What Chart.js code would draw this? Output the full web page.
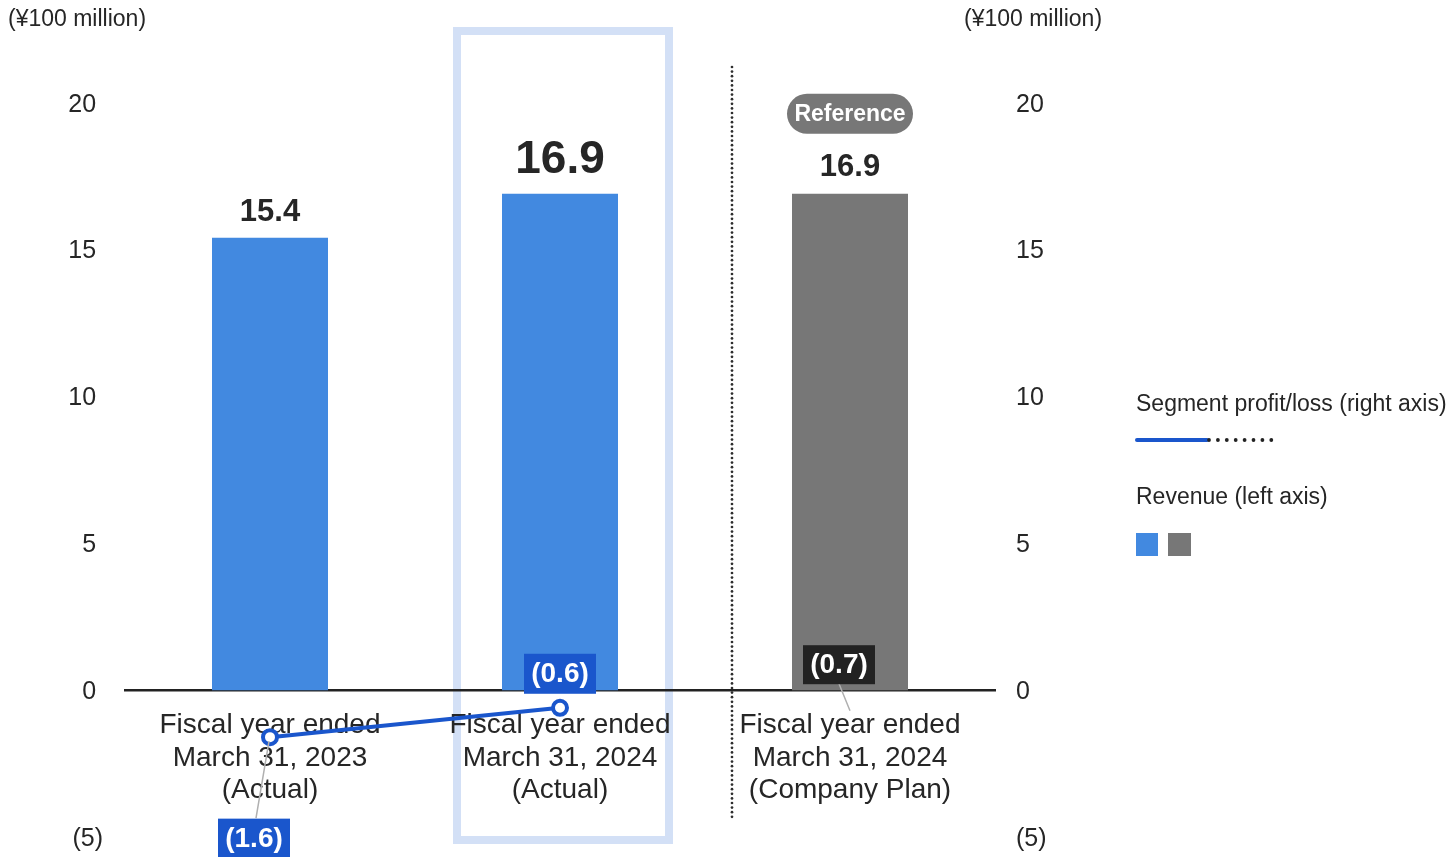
<!DOCTYPE html>
<html lang="en">
<head>
    <meta charset="UTF-8">
    <title>Revenue and Segment Profit/Loss</title>
    <script src="https://cdn.jsdelivr.net/npm/chart.js"></script>
    <style>
        html, body {
            margin: 0;
            padding: 0;
            background: #ffffff;
        }
        #wrap {
            position: relative;
            width: 1452px;
            height: 857px;
        }
    </style>
</head>
<body>

<div id="wrap">
    <canvas id="segmentChart" width="1452" height="857"></canvas>
</div>

<script>
    // Chart values
    const categories = [
        ['Fiscal year ended', 'March 31, 2023', '(Actual)'],
        ['Fiscal year ended', 'March 31, 2024', '(Actual)'],
        ['Fiscal year ended', 'March 31, 2024', '(Company Plan)']
    ];
    const revenue = [15.4, 16.9, 16.9];
    const segmentProfit = [-1.6, -0.6, -0.7];
    const axisTicks = [-5, 0, 5, 10, 15, 20];

    const FONT = "'Liberation Sans', Arial, sans-serif";
    const TEXT = '#262626';
    const BAR_BLUE = '#4289e0';
    const BAR_GRAY = '#777777';
    const LINE_BLUE = '#1a56cc';

    // accounting style: negatives in parentheses, positives padded for the ")"
    function fmtTick(v) {
        return v < 0 ? '(' + Math.abs(v) + ')' : v + '\u2008';
    }
    function fmtTickRight(v) {
        return v < 0 ? '(' + Math.abs(v) + ')' : String(v);
    }
    function fmtProfit(v) {
        return v < 0 ? '(' + Math.abs(v).toFixed(1) + ')' : v.toFixed(1);
    }

    function setTicks(scale) {
        scale.ticks = axisTicks.map(v => ({ value: v }));
    }

    // keep the plot area fixed by the layout padding only
    function noScalePadding(s) {
        s.paddingTop = 0;
        s.paddingBottom = 0;
        s.paddingLeft = 0;
        s.paddingRight = 0;
    }

    // background decorations: highlight frame and dotted divider
    const backdrop = {
        id: 'backdrop',
        beforeDraw(chart) {
            const ctx = chart.ctx;
            const x = chart.scales.x;
            const cx = x.getPixelForValue(1);
            ctx.save();
            ctx.strokeStyle = '#d3e0f6';
            ctx.lineWidth = 8;
            ctx.strokeRect(cx - 103, 31, 212, 809);

            const dx = (x.getPixelForValue(1) + x.getPixelForValue(2)) / 2 + 27;
            ctx.fillStyle = '#2e2e2e';
            for (let y = 67; y <= 820; y += 4.6) {
                ctx.beginPath();
                ctx.arc(dx, y, 1.35, 0, Math.PI * 2);
                ctx.fill();
            }
            ctx.restore();
        }
    };

    function textBox(ctx, text, cx, cy, bg, font, w, h) {
        ctx.fillStyle = bg;
        ctx.fillRect(cx - w / 2, cy - h / 2, w, h);
        ctx.font = font;
        ctx.fillStyle = '#ffffff';
        ctx.textAlign = 'center';
        ctx.textBaseline = 'middle';
        ctx.fillText(text, cx, cy + 1);
    }

    // value labels, profit boxes, leaders, unit captions and legend
    const annotations = {
        id: 'annotations',
        afterDatasetsDraw(chart) {
            const ctx = chart.ctx;
            const bars = chart.getDatasetMeta(0).data;
            const pts = chart.getDatasetMeta(1).data;
            ctx.save();

            // revenue values above bars
            const valueFonts = ['bold 31px ' + FONT, 'bold 46px ' + FONT, 'bold 31px ' + FONT];
            const valueGaps = [25, 33, 26];
            ctx.fillStyle = TEXT;
            ctx.textAlign = 'center';
            ctx.textBaseline = 'middle';
            bars.forEach((b, i) => {
                ctx.font = valueFonts[i];
                ctx.fillText(revenue[i].toFixed(1), b.x, b.y - valueGaps[i]);
            });

            // "Reference" pill over the plan bar
            const pb = bars[2];
            ctx.fillStyle = BAR_GRAY;
            ctx.beginPath();
            ctx.roundRect(pb.x - 63, pb.y - 100, 126, 40, 20);
            ctx.fill();
            ctx.fillStyle = '#ffffff';
            ctx.font = 'bold 23px ' + FONT;
            ctx.fillText('Reference', pb.x, pb.y - 79);

            // leader lines
            ctx.strokeStyle = '#b0b0b0';
            ctx.lineWidth = 1.5;
            ctx.beginPath();
            ctx.moveTo(pts[0].x - 14, pts[0].y + 81);
            ctx.lineTo(pts[0].x - 1, pts[0].y + 4);
            ctx.moveTo(pts[2].x - 11, pts[2].y - 27);
            ctx.lineTo(pts[2].x, pts[2].y);
            ctx.stroke();

            // profit/loss boxes
            const bf = 'bold 28px ' + FONT;
            textBox(ctx, fmtProfit(segmentProfit[0]), pts[0].x - 16, pts[0].y + 101, LINE_BLUE, bf, 72, 39);
            textBox(ctx, fmtProfit(segmentProfit[1]), pts[1].x, pts[1].y - 34, LINE_BLUE, bf, 72, 40);
            textBox(ctx, fmtProfit(segmentProfit[2]), pts[2].x - 11, pts[2].y - 46, '#222222', bf, 72, 39);

            ctx.restore();
        },
        afterDraw(chart) {
            const ctx = chart.ctx;
            ctx.save();
            ctx.fillStyle = TEXT;
            ctx.textBaseline = 'middle';
            ctx.textAlign = 'left';
            ctx.font = '23px ' + FONT;
            ctx.fillText('(¥100 million)', 8, 20);
            ctx.fillText('(¥100 million)', 964, 20);

            // legend
            ctx.font = '23px ' + FONT;
            ctx.fillText('Segment profit/loss (right axis)', 1136, 405);
            ctx.fillText('Revenue (left axis)', 1136, 498);

            ctx.strokeStyle = LINE_BLUE;
            ctx.lineWidth = 4;
            ctx.lineCap = 'round';
            ctx.beginPath();
            ctx.moveTo(1137, 440);
            ctx.lineTo(1207, 440);
            ctx.stroke();
            ctx.fillStyle = '#222222';
            for (let i = 0; i < 8; i++) {
                ctx.beginPath();
                ctx.arc(1209 + i * 8.9, 440, 1.9, 0, Math.PI * 2);
                ctx.fill();
            }

            ctx.fillStyle = BAR_BLUE;
            ctx.fillRect(1136, 533, 22, 23);
            ctx.fillStyle = BAR_GRAY;
            ctx.fillRect(1168, 533, 23, 23);
            ctx.restore();
        }
    };

    new Chart(document.getElementById('segmentChart'), {
        type: 'bar',
        data: {
            labels: categories,
            datasets: [
                {
                    type: 'bar',
                    label: 'Revenue (left axis)',
                    data: revenue,
                    yAxisID: 'y',
                    backgroundColor: [BAR_BLUE, BAR_BLUE, BAR_GRAY],
                    categoryPercentage: 1,
                    barPercentage: 0.4,
                    order: 2
                },
                {
                    type: 'line',
                    label: 'Segment profit/loss (right axis)',
                    data: segmentProfit,
                    yAxisID: 'y1',
                    borderColor: LINE_BLUE,
                    borderWidth: 4,
                    pointRadius: [7, 7, 0],
                    pointBorderWidth: 4,
                    pointBackgroundColor: '#ffffff',
                    pointBorderColor: LINE_BLUE,
                    segment: {
                        borderColor: c => c.p1DataIndex === 2 ? 'rgba(0,0,0,0)' : LINE_BLUE
                    },
                    order: 1
                }
            ]
        },
        options: {
            responsive: false,
            animation: false,
            events: [],
            layout: {
                padding: { top: 44, bottom: 20, left: 0, right: 397 }
            },
            plugins: {
                legend: { display: false },
                tooltip: { enabled: false }
            },
            scales: {
                x: {
                    position: { y: 0 },
                    afterFit: noScalePadding,
                    grid: { display: false, drawTicks: false },
                    border: { display: true, color: '#222222', width: 2.5 },
                    ticks: {
                        color: TEXT,
                        padding: 19,
                        maxRotation: 0,
                        autoSkip: false,
                        font: { family: FONT, size: 28, lineHeight: 1.16 }
                    }
                },
                y: {
                    position: 'left',
                    min: -5,
                    max: 22,
                    afterBuildTicks: setTicks,
                    afterFit(s) { s.width = 125; noScalePadding(s); },
                    grid: { display: false, drawTicks: false },
                    border: { display: false },
                    ticks: {
                        color: TEXT,
                        padding: 22,
                        labelOffset: 2,
                        font: { family: FONT, size: 25 },
                        callback: fmtTick
                    }
                },
                y1: {
                    position: 'right',
                    min: -5,
                    max: 22,
                    afterBuildTicks: setTicks,
                    afterFit(s) { s.width = 60; noScalePadding(s); },
                    grid: { display: false, drawTicks: false },
                    border: { display: false },
                    ticks: {
                        color: TEXT,
                        padding: 21,
                        labelOffset: 2,
                        font: { family: FONT, size: 25 },
                        callback: fmtTickRight
                    }
                }
            }
        },
        plugins: [backdrop, annotations]
    });
</script>

</body>
</html>
